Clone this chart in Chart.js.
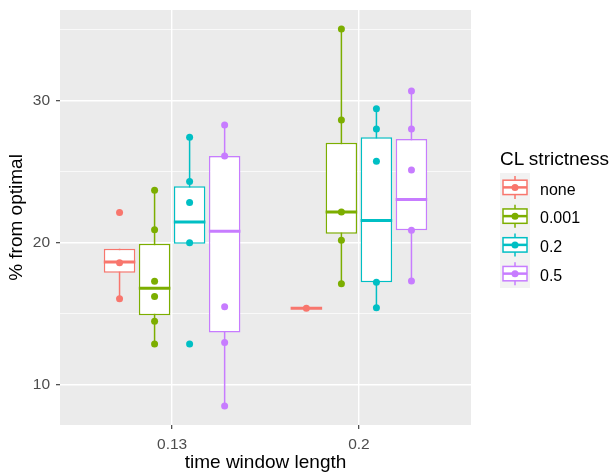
<!DOCTYPE html>
<html>
<head>
<meta charset="utf-8">
<script src="https://cdn.jsdelivr.net/npm/chart.js@4.4.1/dist/chart.umd.min.js"></script>
<style>
  html, body { margin: 0; padding: 0; background: #fff; }
  #wrap { position: relative; width: 616px; height: 474px; font-family: 'Liberation Sans', Arial, sans-serif; }
  #chart { position: absolute; left: 0; top: 0; }
  #legendTitle { position: absolute; left: 500px; top: 149px; font-size: 19px; line-height: 19px; color: #000; white-space: nowrap; }
  #legendKeys { position: absolute; left: 500px; top: 173px; }
  .legendLabel { position: absolute; left: 540px; font-size: 16px; color: #000; white-space: nowrap; }
</style>
</head>
<body>
<div id="wrap">
  <canvas id="chart" width="616" height="474"></canvas>
  <div id="legendTitle">CL strictness</div>
  <canvas id="legendKeys" width="30" height="115"></canvas>
</div>
<script>
/* ── data ─────────────────────────────────────────────────────────────── */

const categories  = ['0.13', '0.2'];
const groups      = ['none', '0.001', '0.2', '0.5'];
const groupColors = ['#F8766D', '#7CAE00', '#00BFC4', '#C77CFF'];

// box stats, one row per category: [whisker low, q1, median, q3, whisker high]
const statsNone = [[16.07, 17.90, 18.64, 19.58, 19.58], [15.39, 15.39, 15.39, 15.39, 15.39]];
const stats001  = [[12.89, 14.90, 16.80, 19.93, 23.69], [17.12, 20.63, 22.17, 27.03, 35.03]];
const stats02   = [[19.93, 19.93, 21.46, 23.97, 27.41], [15.44, 17.22, 21.56, 27.41, 29.42]];
const stats05   = [[8.52, 13.69, 20.81, 26.10, 28.27], [17.31, 20.88, 23.04, 27.29, 30.66]];

// observed values, one list per category
const pointsNone = [[22.12, 18.60, 16.07], [15.39]];
const points001  = [[23.69, 20.91, 17.29, 16.23, 14.48, 12.89], [35.03, 28.63, 22.17, 20.18, 17.12]];
const points02   = [[27.41, 24.30, 22.83, 20.00, 12.89], [29.42, 27.99, 25.72, 17.22, 15.44]];
const points05   = [[28.27, 26.10, 15.51, 12.99, 8.52], [30.66, 27.99, 25.12, 20.88, 17.31]];

const yTickValues  = [10, 20, 30];
const yMinorValues = [15, 25, 35];

/* ── layout helpers ───────────────────────────────────────────────────── */

const FONT = "'Liberation Sans', Arial, sans-serif";
const DODGE_WIDTH = 0.75;
const BOX_RATIO = 0.9;
const SLOT = DODGE_WIDTH / groups.length;
const BOX_HALF = SLOT * BOX_RATIO / 2;
const offsetFor = g => (g - (groups.length - 1) / 2) * SLOT;

const allStats  = [statsNone, stats001, stats02, stats05];
const allPoints = [pointsNone, points001, points02, points05];

const datasets = [];

groups.forEach((name, g) => {
  const color = groupColors[g];
  const off = offsetFor(g);

  // whiskers (drawn behind the white box)
  const whisker = [];
  allStats[g].forEach((s, c) => {
    const x = c + 1 + off;
    whisker.push({ x, y: s[0] }, { x, y: s[4] }, { x, y: null });
  });
  datasets.push({
    type: 'line', data: whisker, borderColor: color, borderWidth: 1.5,
    pointRadius: 0, spanGaps: false, fill: false, order: 3,
  });

  // boxes
  datasets.push({
    type: 'bar', label: name,
    data: allStats[g].map((s, c) => ({ x: c + 1, y: [s[1], s[3]] })),
    backgroundColor: '#FFFFFF', borderColor: color, borderWidth: 1.5,
    borderSkipped: false, categoryPercentage: DODGE_WIDTH, barPercentage: BOX_RATIO,
    order: 2,
  });

  // medians
  const median = [];
  allStats[g].forEach((s, c) => {
    const x = c + 1 + off;
    median.push({ x: x - BOX_HALF, y: s[2] }, { x: x + BOX_HALF, y: s[2] }, { x, y: null });
  });
  datasets.push({
    type: 'line', data: median, borderColor: color, borderWidth: 3,
    borderCapStyle: 'butt', pointRadius: 0, spanGaps: false, fill: false, order: 1,
  });

  // points
  const pts = [];
  allPoints[g].forEach((list, c) => {
    list.forEach(v => pts.push({ x: c + 1 + off, y: v }));
  });
  datasets.push({
    type: 'scatter', data: pts, pointRadius: 3.5, pointBorderWidth: 0,
    pointBackgroundColor: color, borderColor: color, order: 0,
  });
});

/* ── panel background ─────────────────────────────────────────────────── */

const panelBackground = {
  id: 'panelBackground',
  beforeDraw(chart) {
    const { ctx, chartArea: a } = chart;
    ctx.save();
    ctx.fillStyle = '#EBEBEB';
    ctx.fillRect(a.left, a.top, a.right - a.left, a.bottom - a.top);
    ctx.restore();
  },
};

// keep the axes from asking for extra room around the panel
const noAxisPadding = s => {
  s.paddingTop = 0; s.paddingBottom = 0; s.paddingLeft = 0; s.paddingRight = 0;
};

/* ── chart ────────────────────────────────────────────────────────────── */

new Chart(document.getElementById('chart'), {
  type: 'bar',
  data: { datasets },
  plugins: [panelBackground],
  options: {
    responsive: false,
    animation: false,
    layout: { padding: { top: 10, right: 145, left: 0, bottom: 0 } },
    plugins: { legend: { display: false }, tooltip: { enabled: false } },
    scales: {
      x: {
        type: 'linear', min: 0.4, max: 2.6, offset: false,
        afterBuildTicks: s => { s.ticks = categories.map((_, i) => ({ value: i + 1 })); },
        afterFit: s => { s.height = 49; noAxisPadding(s); },
        ticks: {
          callback: v => categories[Math.round(v) - 1],
          color: '#4D4D4D', font: { family: FONT, size: 15.5 },
          padding: 6, maxRotation: 0, autoSkip: false,
        },
        grid: { color: '#FFFFFF', lineWidth: 1.4, tickColor: '#333333', tickLength: 4, tickWidth: 1.1, offset: false },
        border: { display: false },
        title: {
          display: true, text: 'time window length', color: '#000000',
          font: { family: FONT, size: 19 }, padding: { top: 0, bottom: 0 },
        },
      },
      y: {
        min: 7.19, max: 36.36,
        afterBuildTicks: s => {
          s.ticks = [...yTickValues, ...yMinorValues].sort((a, b) => a - b).map(v => ({ value: v }));
        },
        afterFit: s => { s.width = 60; noAxisPadding(s); },
        ticks: {
          callback: v => (yTickValues.includes(v) ? String(v) : ''),
          color: '#4D4D4D', font: { family: FONT, size: 15.5 }, padding: 6,
        },
        grid: {
          color: '#FFFFFF',
          lineWidth: c => (c.tick && yTickValues.includes(c.tick.value) ? 1.4 : 0.7),
          tickColor: c => (c.tick && yTickValues.includes(c.tick.value) ? '#333333' : 'rgba(0,0,0,0)'),
          tickWidth: 1.1, tickLength: 4,
        },
        border: { display: false },
        title: {
          display: true, text: '% from optimal', color: '#000000',
          font: { family: FONT, size: 19 }, padding: { top: 5, bottom: 0 },
        },
      },
    },
  },
});

/* ── legend ───────────────────────────────────────────────────────────── */

const KEY_H = 28.75;
const keyCanvas = document.getElementById('legendKeys');
const kctx = keyCanvas.getContext('2d');
kctx.fillStyle = '#F2F2F2';
kctx.fillRect(0, 0, 30, KEY_H * groups.length);

groups.forEach((name, g) => {
  const color = groupColors[g];
  const y0 = g * KEY_H;
  kctx.strokeStyle = color;
  kctx.lineWidth = 1.5;
  kctx.beginPath();
  kctx.moveTo(15, y0 + KEY_H * 0.1);
  kctx.lineTo(15, y0 + KEY_H * 0.9);
  kctx.stroke();
  kctx.fillStyle = '#FFFFFF';
  kctx.fillRect(3, y0 + KEY_H * 0.25, 24, KEY_H * 0.5);
  kctx.strokeRect(3, y0 + KEY_H * 0.25, 24, KEY_H * 0.5);
  kctx.lineWidth = 2.5;
  kctx.beginPath();
  kctx.moveTo(3, y0 + KEY_H * 0.5);
  kctx.lineTo(27, y0 + KEY_H * 0.5);
  kctx.stroke();
  kctx.fillStyle = color;
  kctx.beginPath();
  kctx.arc(15, y0 + KEY_H * 0.5, 3.5, 0, Math.PI * 2);
  kctx.fill();

  const label = document.createElement('div');
  label.className = 'legendLabel';
  label.textContent = name;
  label.style.top = (173 + y0 + 2.5) + 'px';
  label.style.height = KEY_H + 'px';
  label.style.lineHeight = KEY_H + 'px';
  document.getElementById('wrap').appendChild(label);
});
</script>
</body>
</html>
